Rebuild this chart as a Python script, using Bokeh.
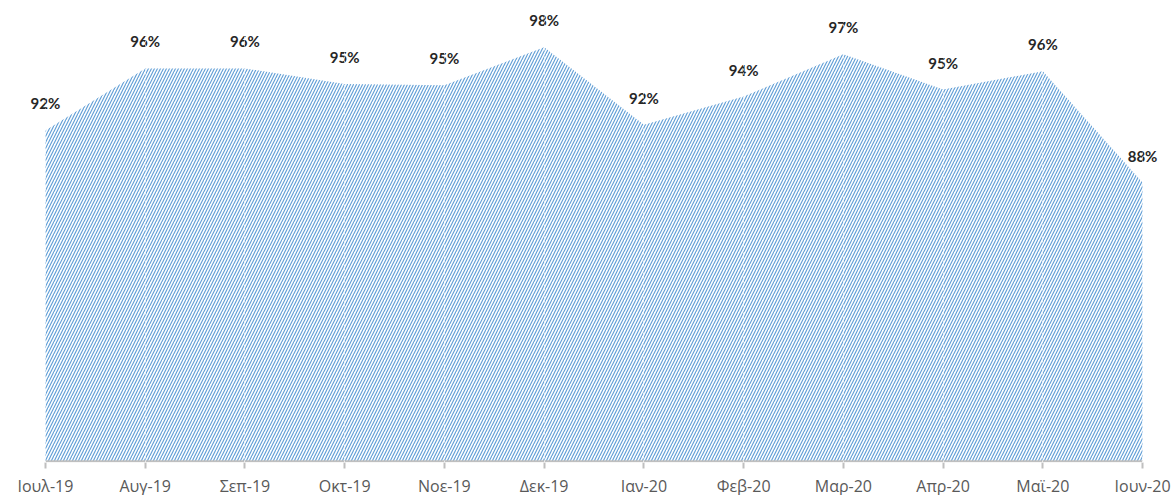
from bokeh.plotting import figure
from bokeh.models import FixedTicker, Range1d, ColumnDataSource
from bokeh.core.properties import value
from bokeh.embed import file_html
from bokeh.resources import INLINE

# ---- data ----
months = ["Ιουλ-19", "Αυγ-19", "Σεπ-19", "Οκτ-19", "Νοε-19", "Δεκ-19",
          "Ιαν-20", "Φεβ-20", "Μαρ-20", "Απρ-20", "Μαϊ-20", "Ιουν-20"]
rates = [0.920, 0.964, 0.964, 0.953, 0.952, 0.979,
         0.924, 0.944, 0.974, 0.949, 0.962, 0.883]
baseline = 0.685  # value at the category axis

xs = list(range(len(months)))
labels = [f"{round(v * 100)}%" for v in rates]
source = ColumnDataSource(dict(x=xs, y=rates, label=labels))

pad = 0.25
p = figure(frame_width=1147, frame_height=449,
           min_border_left=20, min_border_right=8,
           min_border_top=13, min_border_bottom=0,
           x_range=Range1d(xs[0] - pad, xs[-1] + pad),
           y_range=Range1d(baseline - 0.0008, 1.003),
           output_backend="svg", toolbar_location=None)

p.varea(x="x", y1=baseline, y2="y", source=source,
        fill_color=None, fill_alpha=0,
        hatch_pattern="/", hatch_color="#5b9bd5",
        hatch_scale=6, hatch_weight=1.2, hatch_alpha=0.95)

# axis line only between first and last category
p.segment(x0=xs[0], x1=xs[-1], y0=baseline, y1=baseline,
          line_color="#bfbfbf", line_width=2)

p.text(x="x", y="y", text="label", source=source,
       y_offset=-27, text_align="center", text_baseline="middle",
       text_font=value("Lato"), text_font_style="bold",
       text_font_size="15px", text_color="#262626")

ticker = FixedTicker(ticks=xs)
p.xaxis.ticker = ticker
p.xaxis.major_label_overrides = {i: m for i, m in zip(xs, months)}
p.xaxis.axis_line_color = None
p.xaxis.major_tick_line_color = "#bfbfbf"
p.xaxis.major_tick_line_width = 2
p.xaxis.major_tick_out = 6
p.xaxis.major_tick_in = 0
p.xaxis.minor_tick_line_color = None
p.xaxis.major_label_standoff = 6
p.xaxis.major_label_text_font = "Open Sans"
p.xaxis.major_label_text_font_size = "16px"
p.xaxis.major_label_text_color = "#595959"

p.yaxis.visible = False
p.ygrid.grid_line_color = None
p.xgrid.ticker = ticker
p.xgrid.grid_line_color = "white"
p.xgrid.grid_line_alpha = 0.7
p.xgrid.grid_line_width = 1
p.xgrid.grid_line_dash = "2 2"
p.xgrid.level = "overlay"

p.outline_line_color = None
p.background_fill_color = "white"
p.border_fill_color = "white"

open("out.html", "w").write(file_html(p, INLINE))
